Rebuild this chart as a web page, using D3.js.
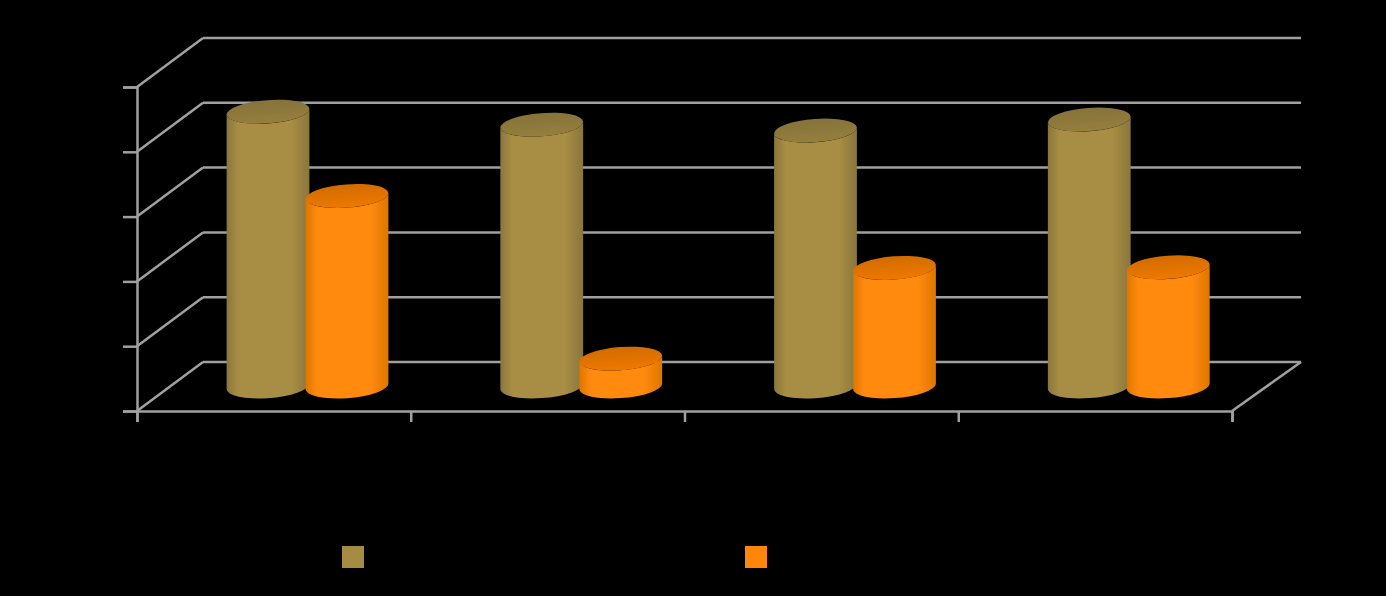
<!DOCTYPE html>
<html>
<head>
<meta charset="utf-8">
<script src="https://cdn.jsdelivr.net/npm/d3@7"></script>
<style>
  html, body { margin: 0; padding: 0; background: #000; overflow: hidden; }
  svg { display: block; }
</style>
</head>
<body>
<svg id="chart"></svg>
<script>
// values, in units of one gridline step (the labels are not visible)
const categories = ['Group 1', 'Group 2', 'Group 3', 'Group 4'];
const seriesNames = ['Series 1', 'Series 2'];
const series1 = [4.24, 4.04, 3.95, 4.12];
const series2 = [2.94, 0.43, 1.83, 1.84];
const yTicks = [0, 1, 2, 3, 4, 5];

const width = 1386;
const height = 596;
const plot = { left: 137, right: 1232, top: 87, bottom: 411 };
const depth = { x: 67, y: -49 };
const gridColor = '#a0a0a0';

const colors = {
  'Series 1': { edge: '#8a763c', mid: '#a88d44', top0: '#86723a', top1: '#957f3d', key: '#a68b43' },
  'Series 2': { edge: '#e07600', mid: '#ff8a0c', top0: '#d26b00', top1: '#ee7900', key: '#ff860a' }
};

const svg = d3.select('#chart').attr('width', width).attr('height', height);
svg.append('rect').attr('width', width).attr('height', height).attr('fill', '#000');

const x0 = d3.scaleBand().domain(categories).range([plot.left + depth.x / 2, plot.right + depth.x / 2]);
const x1 = d3.scaleBand().domain(seriesNames).range([58, 216]);
const xAxisScale = d3.scaleLinear().domain([0, categories.length]).range([plot.left, plot.right]);
const y = d3.scaleLinear().domain([0, 5]).range([plot.bottom, plot.top]);

// Gradients and the soft edge of the picture
const defs = svg.append('defs');
seriesNames.forEach((name, i) => {
  const c = colors[name];
  const body = defs.append('linearGradient').attr('id', `body${i}`);
  body.append('stop').attr('offset', '0%').attr('stop-color', c.edge);
  body.append('stop').attr('offset', '14%').attr('stop-color', c.mid);
  body.append('stop').attr('offset', '78%').attr('stop-color', c.mid);
  body.append('stop').attr('offset', '100%').attr('stop-color', c.edge);
  const top = defs.append('linearGradient').attr('id', `top${i}`)
    .attr('x1', 0).attr('y1', 0).attr('x2', 0).attr('y2', 1);
  top.append('stop').attr('offset', '0%').attr('stop-color', c.top0);
  top.append('stop').attr('offset', '100%').attr('stop-color', c.top1);
});
defs.append('filter').attr('id', 'soft')
  .append('feGaussianBlur').attr('stdDeviation', 0.7);

// Back wall and left wall gridlines
const grid = svg.append('g').attr('stroke', gridColor).attr('stroke-width', 2.5).attr('fill', 'none');
grid.selectAll('.back')
  .data(yTicks)
  .enter()
  .append('line')
  .attr('x1', plot.left + depth.x - 1)
  .attr('x2', 1301)
  .attr('y1', d => y(d) + depth.y)
  .attr('y2', d => y(d) + depth.y);
grid.selectAll('.side')
  .data(yTicks)
  .enter()
  .append('line')
  .attr('x1', plot.left)
  .attr('x2', plot.left + depth.x - 1)
  .attr('y1', d => y(d))
  .attr('y2', d => y(d) + depth.y);
grid.append('line')
  .attr('x1', plot.right)
  .attr('y1', y(0))
  .attr('x2', plot.right + depth.x + 2)
  .attr('y2', y(0) + depth.y);

// Axes, labels are not visible in the picture
const xAxis = d3.axisBottom(xAxisScale).ticks(categories.length).tickSize(11).tickFormat('');
const yAxis = d3.axisLeft(y).tickValues(yTicks).tickSize(14).tickFormat('');
const gx = svg.append('g').attr('transform', `translate(0,${plot.bottom})`).call(xAxis);
const gy = svg.append('g').attr('transform', `translate(${plot.left},0)`).call(yAxis);
[gx, gy].forEach(g => {
  g.selectAll('path, line').attr('stroke', gridColor).attr('stroke-width', 2.5);
});

// Cylinders
const tilt = -4.3 * Math.PI / 180;
const rx = 41.5;
const ry = 11.6;
const edgeX = Math.sqrt(rx * rx * Math.cos(tilt) ** 2 + ry * ry * Math.sin(tilt) ** 2);
const edgeY = (rx * rx - ry * ry) * Math.sin(tilt) * Math.cos(tilt) / edgeX;
const deg = tilt * 180 / Math.PI;

function bodyPath(cx, yTop, yBottom) {
  return `M${cx - edgeX},${yTop - edgeY}` +
    `L${cx - edgeX},${yBottom - edgeY}` +
    `A${rx},${ry} ${deg} 0 0 ${cx + edgeX},${yBottom + edgeY}` +
    `L${cx + edgeX},${yTop + edgeY}` +
    `A${rx},${ry} ${deg} 0 1 ${cx - edgeX},${yTop - edgeY}Z`;
}

const rows = categories.flatMap((cat, i) => [
  { cat, name: seriesNames[0], s: 0, value: series1[i] },
  { cat, name: seriesNames[1], s: 1, value: series2[i] }
]);

const cyl = svg.append('g').attr('filter', 'url(#soft)').selectAll('g')
  .data(rows)
  .enter()
  .append('g')
  .attr('class', 'cylinder');

cyl.append('path')
  .attr('d', d => {
    const cx = x0(d.cat) + x1(d.name) + x1.bandwidth() / 2;
    return bodyPath(cx, y(d.value) + depth.y / 2, y(0) + depth.y / 2);
  })
  .attr('fill', d => `url(#body${d.s})`);

cyl.append('ellipse')
  .attr('rx', rx)
  .attr('ry', ry)
  .attr('transform', d => {
    const cx = x0(d.cat) + x1(d.name) + x1.bandwidth() / 2;
    return `translate(${cx},${y(d.value) + depth.y / 2}) rotate(${deg})`;
  })
  .attr('fill', d => `url(#top${d.s})`);

// Legend keys, names are not visible in the picture
const legendX = d3.scalePoint().domain(seriesNames).range([342, 745]);
svg.append('g').selectAll('rect')
  .data(seriesNames)
  .enter()
  .append('rect')
  .attr('x', d => legendX(d))
  .attr('y', 546)
  .attr('width', 22)
  .attr('height', 22)
  .attr('fill', d => colors[d].key);
</script>
</body>
</html>
